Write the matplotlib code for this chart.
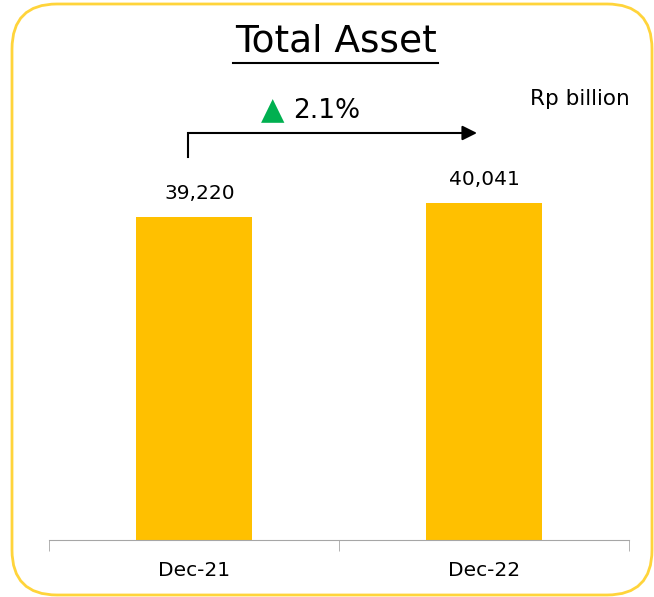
import matplotlib
matplotlib.use("Agg")
import matplotlib.pyplot as plt
from matplotlib.patches import FancyBboxPatch

categories = ["Dec-21", "Dec-22"]
values = [39220, 40041]
title = "Total Asset"
unit = "Rp billion"

growth = (values[1] / values[0] - 1) * 100

plt.rcParams["font.family"] = ["DejaVu Sans"]

fig = plt.figure(figsize=(6.54, 5.97), dpi=100)

# rounded yellow frame
frame = FancyBboxPatch((0.12, 0.02), 6.40, 5.91, boxstyle="round,pad=0,rounding_size=0.45",
                       transform=fig.dpi_scale_trans, facecolor="none",
                       edgecolor="#FFD43B", linewidth=2, zorder=0)
fig.patches.append(frame)

ax = fig.add_axes([0.075, 0.0955, 0.887, 0.737])
ax.patch.set_alpha(0)
x = list(range(len(categories)))
ax.bar(x, values, width=0.4, color="#FFC000", zorder=2)
ax.set_xlim(-0.5, 1.5)
ax.set_ylim(20300, 46100)

for s in ["top", "right", "left"]:
    ax.spines[s].set_visible(False)
ax.spines["bottom"].set_color("#A6A6A6")
ax.set_yticks([])
ax.set_xticks(x)
ax.set_xticklabels(categories, fontsize=14.5)
ax.tick_params(axis="x", length=0, pad=15)
ax.set_xticks([-0.5, 0.5, 1.5], minor=True)
ax.tick_params(axis="x", which="minor", length=8, color="#A6A6A6", direction="out")

for xi, v in zip(x, values):
    ax.annotate(f"{v:,}", xy=(xi + (0.02 if xi == 0 else 0), v), xytext=(0, 10),
                textcoords="offset points", ha="center", va="bottom", fontsize=14.5)

# growth arrow
ax.plot([-0.02, -0.02], [0.870, 0.925], color="black", lw=1.5, clip_on=False,
        transform=ax.get_xaxis_transform())
ax.annotate("", xy=(0.985, 0.925), xytext=(-0.028, 0.925), xycoords=ax.get_xaxis_transform(),
            arrowprops=dict(arrowstyle="-|>", color="black", lw=1.5, mutation_scale=22),
            annotation_clip=False)
ax.text(0.27, 0.975, "\u25B2", color="#00B050", fontsize=22, ha="center", va="center",
        transform=ax.get_xaxis_transform())
ax.text(0.34, 0.975, f"{growth:.1f}%", fontsize=19, ha="left", va="center",
        transform=ax.get_xaxis_transform())

fig.text(0.5135, 0.93, title, fontsize=27, ha="center", va="center")
fig.add_artist(plt.Line2D([0.356, 0.669], [0.895, 0.895], color="black", lw=1.5))
fig.text(0.81, 0.835, unit, fontsize=15.5, ha="left", va="center")

plt.savefig("out.png", dpi=100)
